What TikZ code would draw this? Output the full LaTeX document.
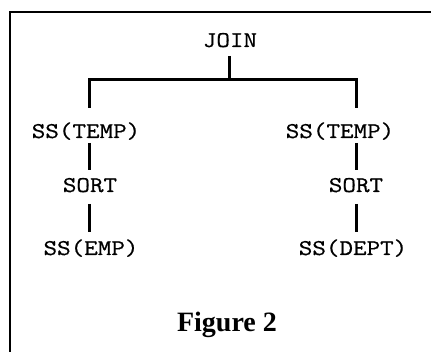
\documentclass[tikz,border=0pt]{standalone}
\usepackage{fontspec}
\setmainfont{Liberation Serif}
\setmonofont{Latin Modern Mono}[FakeStretch=1.17, FakeBold=0.6]
\begin{document}
\begin{tikzpicture}[x=1pt,y=-1pt,
  lbl/.style={font=\ttfamily\fontsize{22.5}{22.5}\selectfont, inner sep=0pt, anchor=base},
  figcap/.style={font=\bfseries\fontsize{28}{28}\selectfont, inner sep=0pt, anchor=base},
  link/.style={line width=3pt},
  boxline/.style={line width=1.5pt}]
\useasboundingbox (0,0) rectangle (431,352);
\draw[boxline] (10,352) -- (10,12) -- (431,12);
\node[lbl] (join) at (230,47) {JOIN};
\node[lbl] (t1) at (86,138) {SS(TEMP)};
\node[lbl] (t2) at (340,138) {SS(TEMP)};
\node[lbl] (s1) at (90,192) {SORT};
\node[lbl] (s2) at (356,192) {SORT};
\node[lbl] (e1) at (91,255) {SS(EMP)};
\node[lbl] (d2) at (353,255) {SS(DEPT)};
\node[figcap] (fig) at (227,332) {Figure 2};
% connector points
\coordinate (j0) at (229,56);
\coordinate (jm) at (229,80);
\coordinate (l0) at (89,80);
\coordinate (l1) at (89,108);
\coordinate (r0) at (356,80);
\coordinate (r1) at (356,108);
\coordinate (la) at (89,143);
\coordinate (lb) at (89,170);
\coordinate (ra) at (356,143);
\coordinate (rb) at (356,170);
\coordinate (lc) at (89,204);
\coordinate (ld) at (89,232);
\coordinate (rc) at (356,204);
\coordinate (rd) at (356,232);
\draw[link] (j0) -- (jm);
\draw[link] (l1) -- (l0) -- (r0) -- (r1);
\draw[link] (la) -- (lb);
\draw[link] (ra) -- (rb);
\draw[link] (lc) -- (ld);
\draw[link] (rc) -- (rd);
\end{tikzpicture}
\end{document}
